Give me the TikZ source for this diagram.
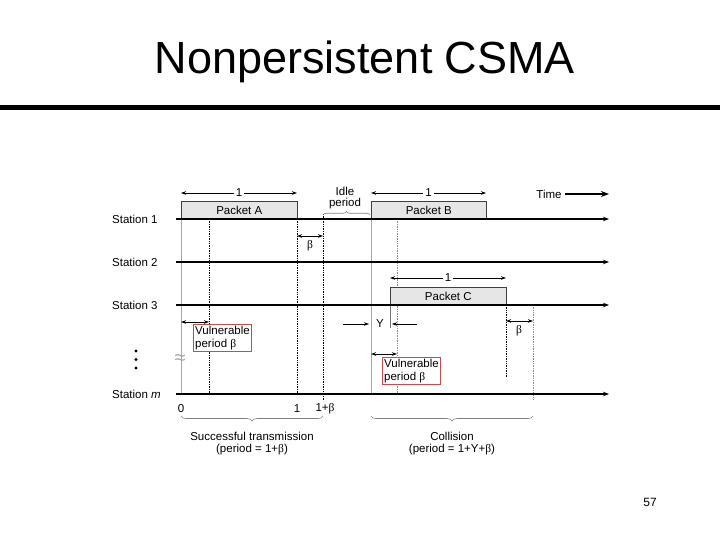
\documentclass[tikz,border=0pt]{standalone}
\usepackage{fontspec}
\setmainfont{Liberation Sans}
\newfontfamily\grk{Liberation Serif}
\usetikzlibrary{arrows.meta,decorations.pathreplacing}
\definecolor{vulred}{RGB}{192,80,77}
\definecolor{pktfill}{RGB}{230,230,230}
\newcommand{\bet}{{\grk β}}
\begin{document}
\begin{tikzpicture}[x=1pt,y=-1pt,
  lbl/.style={font=\fontsize{11.5}{13}\selectfont, inner sep=0pt},
  stline/.style={line width=2.4pt,-{Stealth[length=6pt,width=4.5pt]}},
  pkt/.style={draw=black!75, fill=pktfill, line width=0.6pt, inner sep=0pt, anchor=south west, font=\fontsize{11.5}{13}\selectfont},
  dur/.style={{Stealth[length=5pt,width=3.5pt]}-{Stealth[length=5pt,width=3.5pt]}, line width=0.8pt},
  onear/.style={-{Stealth[length=5pt,width=3.5pt]}, line width=0.6pt},
  dots/.style={densely dotted, line width=0.7pt},
  lightdots/.style={densely dotted, line width=0.7pt, draw=black!45},
  guide/.style={draw=black!35, line width=0.5pt},
  vbox/.style={draw=vulred, line width=0.8pt, fill=white, align=left, inner sep=1.8pt, anchor=north west, font=\fontsize{11.5}{13}\selectfont},
  brc/.style={decorate, decoration={brace,amplitude=5pt}, draw=black!50, line width=0.6pt}]
\useasboundingbox (0,0) rectangle (720,540);

% title and rule
\node[anchor=base, font=\fontsize{45}{50}\selectfont, inner sep=0pt] (title) at (365,74) {Nonpersistent CSMA};
\draw[line width=5pt] (0,108) -- (720,108);

% guide lines
\draw[guide] (181,202) -- (181,394);
\draw[guide] (371,202) -- (371,394);
\draw[guide, draw=black!55] (390,305) -- (390,328);
\draw[dots] (209,219) -- (209,394);
\draw[dots] (297,219) -- (297,394);
\draw[dots] (323,214) -- (323,400);
\draw[lightdots] (397,219) -- (397,394);
\draw[dots] (506,305) -- (506,377);
\draw[lightdots] (533,305) -- (533,400);

% packets
\node[pkt, minimum width=116pt, minimum height=17pt] (pA) at (181,219) {Packet A};
\node[pkt, minimum width=115pt, minimum height=17pt] (pB) at (371,219) {Packet B};
\node[pkt, minimum width=116pt, minimum height=17pt] (pC) at (390,305) {Packet C};

% station labels and lines
\node[lbl, anchor=west] (st1) at (112,219) {Station 1};
\node[lbl, anchor=west] (st2) at (112,262) {Station 2};
\node[lbl, anchor=west] (st3) at (112,305) {Station 3};
\node[lbl, anchor=west] (stm) at (112,394) {Station \textit{m}};
\coordinate (l1a) at (176,219); \coordinate (l1b) at (609,219);
\coordinate (l2a) at (176,262); \coordinate (l2b) at (609,262);
\coordinate (l3a) at (176,305); \coordinate (l3b) at (609,305);
\coordinate (lma) at (176,394); \coordinate (lmb) at (609,394);
\draw[stline] (l1a) -- (l1b);
\draw[stline] (l2a) -- (l2b);
\draw[stline] (l3a) -- (l3b);
\draw[stline] (lma) -- (lmb);

% durations
\draw[dur] (181,193) -- node[lbl, fill=white, inner xsep=2pt] (oneA) {1} (297,193);
\draw[dur] (371,193) -- node[lbl, fill=white, inner xsep=2pt] (oneB) {1} (486,193);
\draw[dur] (390,278) -- node[lbl, fill=white, inner xsep=2pt] (oneC) {1} (506,278);

% time
\node[lbl] (time) at (549,194) {Time};
\draw[-{Stealth[length=8pt,width=6pt]}, line width=2.2pt] (time.east) ++(3,0) -- (609,194);

% idle period
\node[lbl] (idle) at (345,191) {Idle};
\node[lbl] (idlep) at (345,204) {period};
\draw[brc, decoration={brace,amplitude=3.5pt}] (323,215) -- (370,215);

% beta gaps
\draw[dur] (297,236) -- (323,236);
\node[lbl] (b1) at (310,246) {\bet};
\draw[dur] (506,321) -- (533,321);
\node[lbl] (b2) at (519,331) {\bet};

% Y
\node[lbl] (Y) at (380,324) {Y};
\draw[onear] (343,324) -- (369,324);
\draw[onear] (417,324) -- (392,324);

% vulnerable periods
\draw[dur] (181,322) -- (209,322);
\node[vbox] (vb1) at (193,324) {Vulnerable\\period \bet};
\draw[dur] (371,354) -- (397,354);
\node[vbox] (vb2) at (382,357) {Vulnerable\\period \bet};

% vertical dots and break mark
\fill (136,351) circle (1.7);
\fill (136,359.5) circle (1.7);
\fill (136,368) circle (1.7);
\node[lbl, text=black!35, font=\fontsize{20}{22}\selectfont] (brk) at (180,360) {≈};

% time axis labels
\node[lbl] (t0) at (181,409) {0};
\node[lbl] (t1) at (297,409) {1};
\node[lbl] (t1b) at (325,409) {1+\bet};

% bottom braces
\draw[brc] (323,416) -- (181,416);
\node[lbl] (succ) at (252,436) {Successful transmission};
\node[lbl] (succp) at (252,450) {(period = 1+\bet)};
\draw[brc] (533,416) -- (371,416);
\node[lbl] (coll) at (452,436) {Collision};
\node[lbl] (collp) at (452,450) {(period = 1+Y+\bet)};

% page number
\node[font=\fontsize{12}{14}\selectfont, inner sep=0pt] (pg) at (650,502) {57};
\end{tikzpicture}
\end{document}
